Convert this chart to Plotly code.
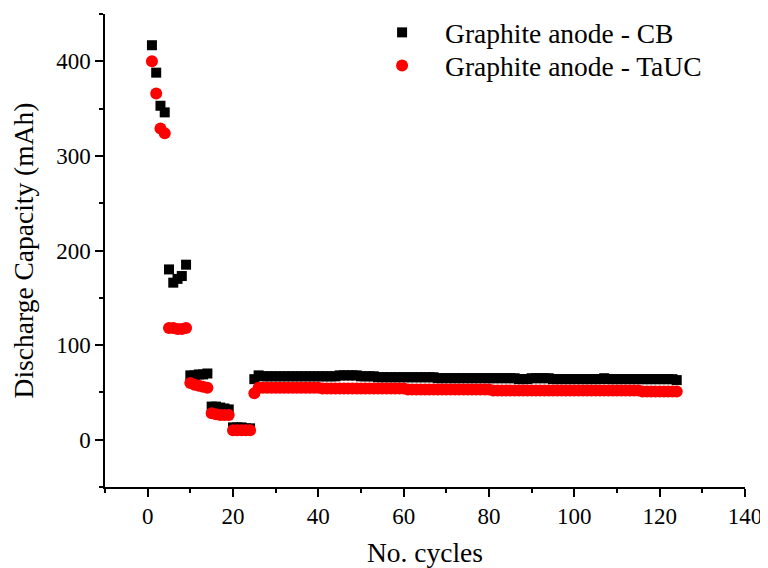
import plotly.graph_objects as go

cycles = list(range(1, 125))

cb = [417, 388, 353, 346, 180, 166, 170, 173, 185, 68, 68, 69, 69, 70, 35, 35, 34, 33, 32, 13,
      13, 13, 12, 12, 64, 68,
      67, 67, 67, 67, 67, 67, 67, 67, 67, 67, 67, 67, 67, 67,
      67, 67, 67, 67, 68, 68, 68, 68, 68, 67,
      67, 67, 67, 66, 66, 66, 66, 66, 66, 66,
      66, 66, 66, 66, 66, 66, 66, 65, 65, 65,
      65, 65, 65, 65, 65, 65, 65, 65, 65, 65,
      65, 65, 65, 65, 65, 65, 64, 64, 64, 65,
      65, 65, 65, 65, 64, 64, 64, 64, 64, 64,
      64, 64, 64, 64, 64, 64, 65, 64, 64, 64,
      64, 64, 64, 64, 64, 64, 64, 64, 64, 64,
      64, 64, 64, 63]

tauc = [400, 366, 329, 324, 118, 118, 117, 117, 118, 60, 58, 57, 56, 55, 28, 27, 26, 26, 26, 10,
        10, 10, 10, 10, 49, 55,
        55, 55, 55, 55, 55, 55, 55, 55, 55, 55, 55, 55, 55, 55,
        54, 54, 54, 54, 54, 54, 54, 54, 54, 54, 54, 54, 54, 54, 54, 54, 54, 54, 54, 54,
        53, 53, 53, 53, 53, 53, 53, 53, 53, 53, 53, 53, 53, 53, 53, 53, 53, 53, 53, 53,
        52, 52, 52, 52, 52, 52, 52, 52, 52, 52, 52, 52, 52, 52, 52, 52, 52, 52, 52, 52,
        52, 52, 52, 52, 52, 52, 52, 52, 52, 52, 52, 52, 52, 52, 52,
        51, 51, 51, 51, 51, 51, 51, 51, 51]

names = ["Graphite anode - CB", "Graphite anode - TaUC"]

font_family = "Liberation Serif, Times New Roman, serif"

fig = go.Figure()
fig.add_trace(go.Scatter(x=cycles, y=cb, mode="markers", name=names[0], legend="legend",
                         showlegend=True,
                         marker=dict(symbol="square", size=10, color="black")))
fig.add_trace(go.Scatter(x=cycles, y=tauc, mode="markers", name=names[1], legend="legend2",
                         showlegend=True,
                         marker=dict(symbol="circle", size=12, color="#ff0000")))

axis_common = dict(showline=True, linecolor="black", linewidth=1.5, showgrid=False,
                   zeroline=False, ticks="outside", ticklen=8, tickwidth=1.5,
                   tickcolor="black", automargin=False,
                   tickfont=dict(size=23, family=font_family, color="black"))

fig.update_xaxes(range=[-10, 140], tick0=0, dtick=20,
                 minor=dict(dtick=10, ticks="outside", ticklen=4, tickwidth=1.5, tickcolor="black"),
                 title=dict(text="No. cycles", font=dict(size=27.5, family=font_family, color="black"),
                            standoff=14),
                 **axis_common)
fig.update_yaxes(range=[-50, 450], tick0=0, dtick=100,
                 minor=dict(dtick=50, ticks="outside", ticklen=4, tickwidth=1.5, tickcolor="black"),
                 title=dict(text="Discharge Capacity (mAh)", font=dict(size=27.5, family=font_family, color="black"),
                            standoff=18),
                 **axis_common)

legend_common = dict(x=0.397, xanchor="left", yanchor="top", yref="container",
                     font=dict(size=27.5, family=font_family, color="black"),
                     itemwidth=76, bgcolor="rgba(0,0,0,0)", itemsizing="trace")

# page body has an 8px default margin, so the figure is sized to fit the window
fig.update_layout(
    width=760, height=560,
    showlegend=True,
    margin=dict(l=97, r=23, t=6, b=81, autoexpand=False),
    plot_bgcolor="white", paper_bgcolor="white",
    font=dict(family=font_family, color="black"),
    legend=dict(y=1.0, **legend_common),
    legend2=dict(y=0.941, **legend_common),
)

fig.write_html("out.html")
